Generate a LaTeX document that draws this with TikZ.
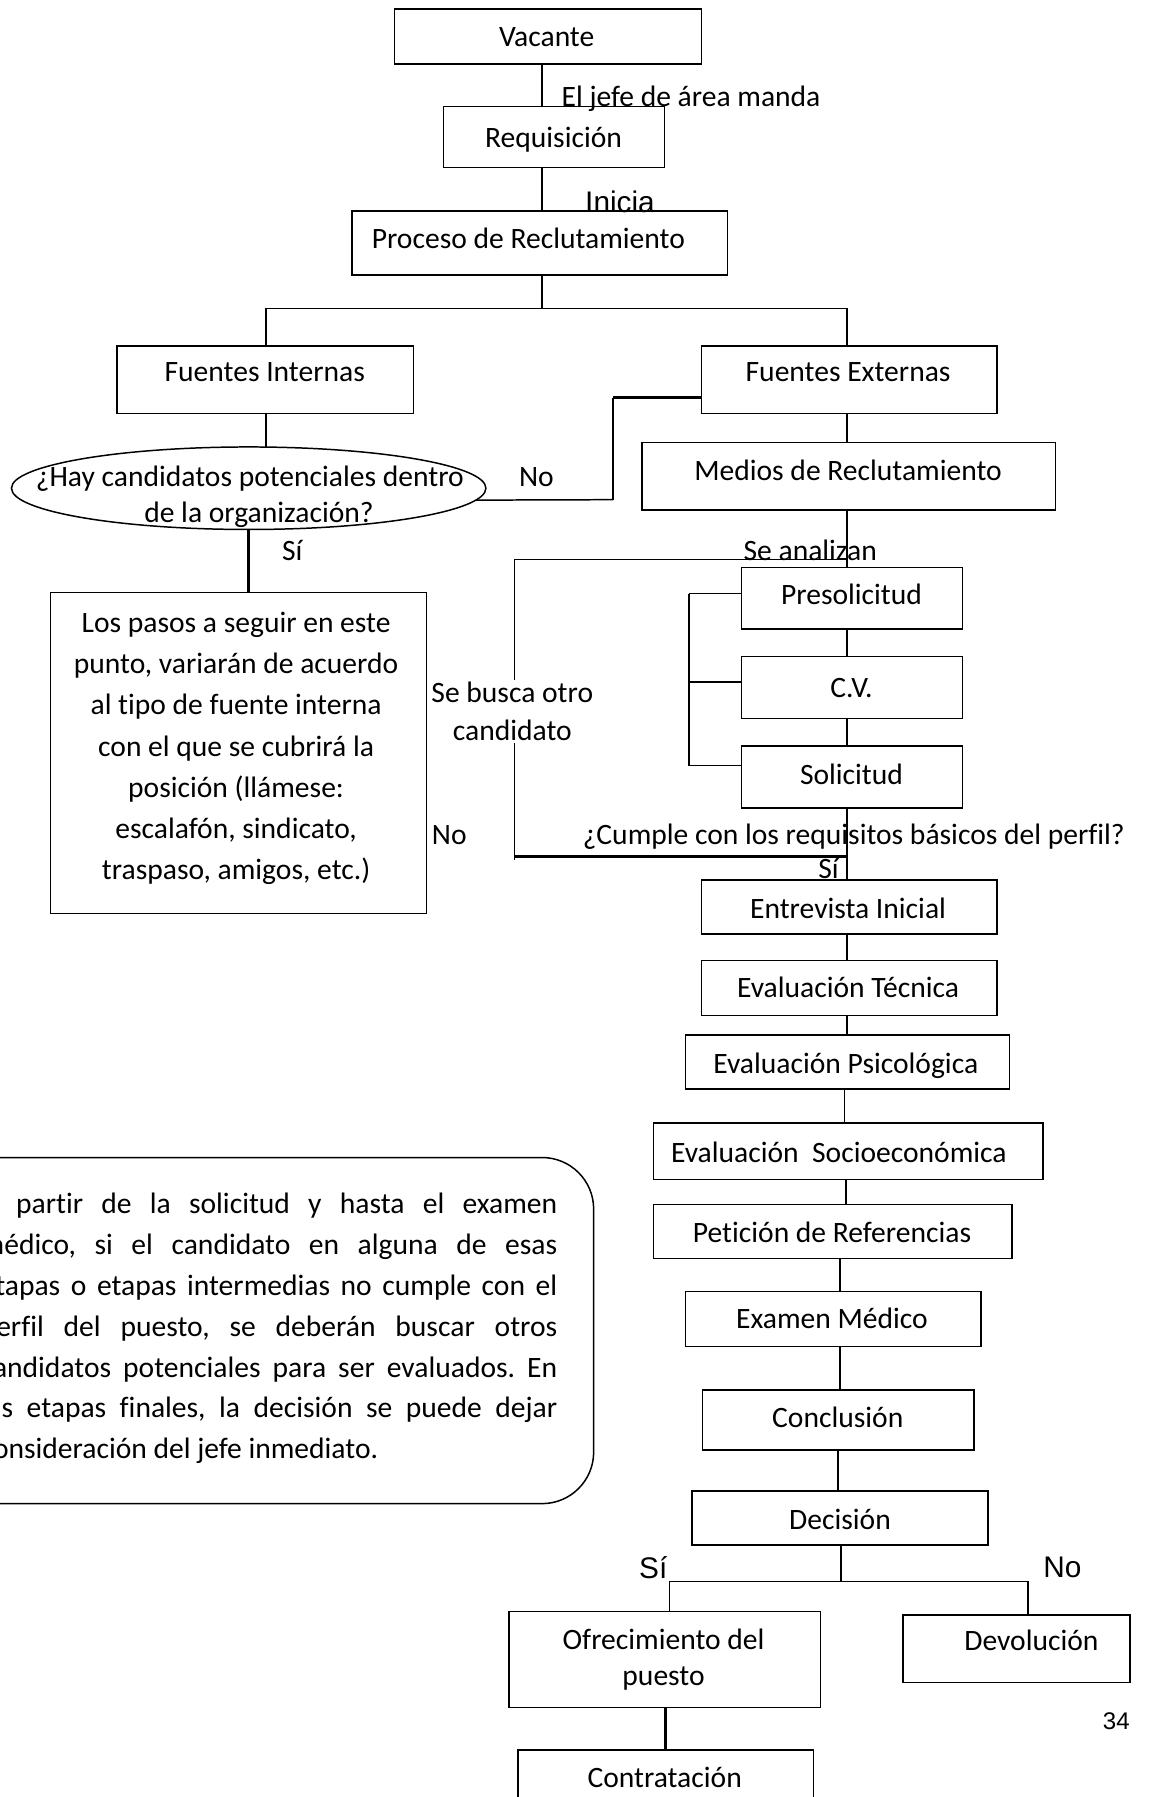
\documentclass[tikz,border=0pt]{standalone}
\usepackage{fontspec}
\setmainfont{Carlito}[Ligatures=NoCommon]
\newfontfamily\arialf{Liberation Sans}
\usetikzlibrary{shapes.geometric}
\frenchspacing
\newcommand\fsz{\fontsize{25.8}{31}\selectfont}
\tikzset{
  boxs/.style={draw, line width=1.3pt, inner sep=0pt, outer sep=0pt, rectangle},
  txt/.style={inner sep=0pt, font=\fsz, text height=20pt, text depth=3pt},
  mtxt/.style={inner sep=0pt, align=center},
  big/.style={inner sep=0pt, font=\arialf\fontsize{26}{30}\selectfont},
  ln/.style={line width=1.3pt},
  thk/.style={line width=2.6pt},
}
\newcommand\mkbox[8]{%
  \node[boxs, minimum width={#4-#2}, minimum height={#5-#3}] (#1) at ({(#2+#4)/2},{(#3+#5)/2}) {};
  \node[txt] (#1t) at (#6,#7) {#8};}
\begin{document}
\begin{tikzpicture}[x=1pt,y=-1pt]
\fill[white] (0,0) rectangle (1016,1568);
\useasboundingbox (0,0) rectangle (1016,1568);

% column coordinates
\coordinate (c473) at (473,0);
\coordinate (c232) at (232,0);
\coordinate (c739) at (739,0);
\coordinate (c217) at (217,0);
\coordinate (c737) at (737,0);
\coordinate (c738) at (738,0);
\coordinate (c733) at (733,0);
\coordinate (c731) at (731,0);
\coordinate (c734) at (734,0);
\coordinate (c581) at (581,0);
\coordinate (c584) at (584,0);
\coordinate (c897) at (897,0);

% boxes
\mkbox{vac}{344}{8}{612}{56}{477}{32}{Vacante}
\mkbox{req}{387}{93}{580}{146}{483}{120}{Requisición}
\mkbox{pro}{307}{184}{635}{240}{461}{208}{Proceso de Reclutamiento}
\mkbox{fi}{102}{302}{361}{361}{231}{324}{Fuentes Internas}
\mkbox{fe}{612}{302}{870}{361}{740}{324}{Fuentes Externas}
\mkbox{med}{560}{386}{921}{445}{740}{411}{Medios de Reclutamiento}
\mkbox{pre}{647}{495}{840}{549}{743}{519}{Presolicitud}
\mkbox{cv}{647}{573}{840}{627}{743}{600}{C.V.}
\mkbox{sol}{647}{651}{840}{705}{743}{676}{Solicitud}
\mkbox{ent}{612}{768}{870}{815}{740}{793}{Entrevista Inicial}
\mkbox{tec}{612}{838}{870}{886}{740}{862}{Evaluación Técnica}
\mkbox{psi}{598}{903}{881}{950}{738}{928}{Evaluación Psicológica}
\mkbox{soc}{570}{980}{910}{1029}{732}{1006}{Evaluación\ \ Socioeconómica}
\mkbox{pet}{570}{1051}{883}{1098}{726}{1076}{Petición de Referencias}
\mkbox{exa}{598}{1127}{856}{1175}{726}{1151}{Examen Médico}
\mkbox{con}{613}{1213}{850}{1265}{731}{1237}{Conclusión}
\mkbox{dec}{604}{1301}{862}{1348}{733}{1326}{Decisión}
\mkbox{dev}{788}{1409}{986}{1468}{900}{1432}{Devolución}
\mkbox{ctr}{452}{1527}{710}{1590}{580}{1551}{Contratación}

\node[boxs, minimum width=272, minimum height=84] (ofr) at (580,1448) {};
\node[mtxt, font=\fontsize{25.8}{32}\selectfont] (ofrt) at (579,1448) {Ofrecimiento del\\puesto};

\node[boxs, minimum width=328, minimum height=280] (pas) at (208,657) {};
\node[mtxt, font=\fontsize{25.8}{35.8}\selectfont] (past) at (206,653)
  {Los pasos a seguir en este\\punto, variarán de acuerdo\\al tipo de fuente interna\\con el que se cubrirá la\\posición (llámese:\\escalafón, sindicato,\\traspaso, amigos, etc.)};

% ellipse
\node[draw, ln, ellipse, minimum width=414, minimum height=72, inner sep=0pt, outer sep=0pt] (ell) at (217,426) {};
\node[txt] (ell1) at (218,416) {¿Hay candidatos potenciales dentro};
\node[txt] (ell2) at (226,447) {de la organización?};

% connectors top
\draw[ln] (vac.south -| c473) -- (req.north -| c473);
\draw[ln] (req.south -| c473) -- (pro.north -| c473);
\coordinate (j1) at (473,269);
\draw[ln] (pro.south -| c473) -- (j1);
\draw[ln] (fi.north -| c232) |- (j1) -| (fe.north -| c739);
\draw[ln] (fi.south -| c232) -- (ell.north -| c232);
\coordinate (n1) at (535,436);
\coordinate (n2) at (535,347);
\draw[ln] (ell.-3) -- (n1);
\draw[line width=1.8pt] (n1) -- (n2);
\draw[thk] (n2) -- (fe.west |- n2);
\draw[ln] (fe.south -| c739) -- (med.north -| c739);
\draw[ln] (med.south -| c739) -- (pre.north -| c739);
\draw[thk] (ell.south -| c217) -- (pas.north -| c217);

% loop
\coordinate (lt) at (449,488);
\coordinate (lb) at (449,747);
\draw[ln] (lt) -- (lt -| c739);
\draw[ln] (lt) -- (449,750);
\draw[thk] (lb) -- (lb -| c739);

% bracket
\coordinate (b1) at (601,518);
\coordinate (b2) at (601,595);
\coordinate (b3) at (601,668);
\draw[ln] (b1) -- (b3);
\draw[ln] (b1) -- (pre.west |- b1);
\draw[ln] (b2) -- (cv.west |- b2);
\draw[ln] (b3) -- (sol.west |- b3);

% chain
\draw[ln] (pre.south -| c739) -- (cv.north -| c739);
\draw[ln] (cv.south -| c739) -- (sol.north -| c739);
\draw[ln] (sol.south -| c739) -- (ent.north -| c739);
\draw[ln] (ent.south -| c739) -- (tec.north -| c739);
\draw[ln] (tec.south -| c739) -- (psi.north -| c739);
\draw[ln] (psi.south -| c737) -- (soc.north -| c737);
\draw[ln] (soc.south -| c738) -- (pet.north -| c738);
\draw[ln] (pet.south -| c733) -- (exa.north -| c733);
\draw[ln] (exa.south -| c733) -- (con.north -| c733);
\draw[ln] (con.south -| c731) -- (dec.north -| c731);
\coordinate (j2) at (734,1380);
\draw[ln] (dec.south -| c734) -- (j2);
\draw[ln] (ofr.north -| c584) |- (j2) -| (dev.north -| c897);
\draw[thk] (ofr.south -| c581) -- (ctr.north -| c581);

% labels
\node[txt] (lab1) at (603,84) {El jefe de área manda};
\node[big] (lab2) at (541,176) {Inicia};
\node[txt] (lab3) at (468,416) {No};
\node[txt] (lab4) at (255,481) {Sí};
\node[txt] (lab5) at (707,481) {Se analizan};
\node[mtxt, fill=white, inner sep=2pt, font=\fontsize{25.8}{33}\selectfont] (lab6) at (447,621) {Se busca otro\\candidato};
\node[txt] (lab7) at (392,728) {No};
\node[txt] (lab8) at (745,728) {¿Cumple con los requisitos básicos del perfil?};
\node[txt] (lab9) at (723,758) {Sí};
\node[big] (lab10) at (570,1368) {Sí};
\node[big] (lab11) at (927,1368) {No};
\node[inner sep=0pt, font=\arialf\fontsize{21}{25}\selectfont] (pg) at (974,1502) {34};

% note box
\node[draw, ln, rounded corners=45pt, minimum width=578, minimum height=302, inner sep=0pt, outer sep=0pt] (note) at (229,1161) {};
\begin{scope}[every node/.style={inner sep=0pt, anchor=base west, font=\fsz}]
\node (nl1) at (-17,1059) {\makebox[503pt][s]{A partir de la solicitud y hasta el examen}};
\node (nl2) at (-17,1095) {\makebox[503pt][s]{médico, si el candidato en alguna de esas}};
\node (nl3) at (-17,1130) {\makebox[503pt][s]{etapas o etapas intermedias no cumple con el}};
\node (nl4) at (-17,1166) {\makebox[503pt][s]{perfil del puesto, se deberán buscar otros}};
\node (nl5) at (-17,1202) {\makebox[503pt][s]{candidatos potenciales para ser evaluados. En}};
\node (nl6) at (-17,1237) {\makebox[503pt][s]{las etapas finales, la decisión se puede dejar}};
\node (nl7) at (-17,1273) {consideración del jefe inmediato.};
\end{scope}
\end{tikzpicture}
\end{document}
